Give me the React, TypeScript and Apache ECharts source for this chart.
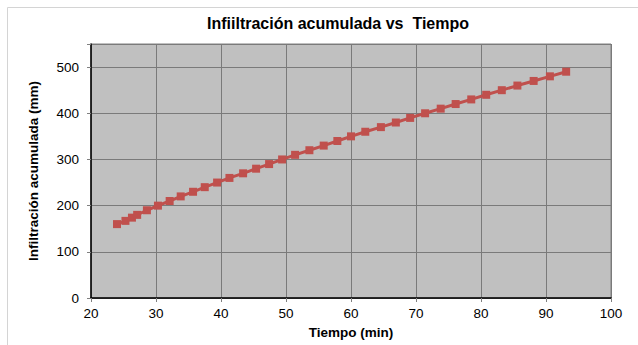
import React, { useEffect, useRef } from "react";
import * as echarts from "echarts";

const tiempo = [24.0, 25.3, 26.3, 27.1, 28.6, 30.3, 32.1, 33.8, 35.7, 37.5, 39.4, 41.3, 43.4, 45.4, 47.4, 49.4, 51.4, 53.6, 55.8, 57.9, 60.0, 62.2, 64.6, 66.9, 69.1, 71.4, 73.8, 76.1, 78.5, 80.8, 83.2, 85.6, 88.1, 90.6, 93.1];
const infiltracion = [160, 167, 174, 180, 190, 200, 210, 220, 230, 240, 250, 260, 270, 280, 290, 300, 310, 320, 330, 340, 350, 360, 370, 380, 390, 400, 410, 420, 430, 440, 450, 460, 470, 480, 490];

const titleText = "Infiiltración acumulada vs  Tiempo";
const xName = "Tiempo (min)";
const yName = "Infiltración acumulada (mm)";

const FONT = "'Liberation Sans', Arial, sans-serif";

export default function App() {
  const ref = useRef<HTMLDivElement>(null);
  useEffect(() => {
    if (!ref.current) return;
    const chart = echarts.init(ref.current, null, { renderer: "svg" });
    const data = tiempo.map((t, i) => [t, infiltracion[i]]);
    chart.setOption({
      animation: false,
      backgroundColor: "#ffffff",
      textStyle: { fontFamily: FONT },
      title: {
        text: titleText,
        left: 333,
        top: 10,
        textAlign: "center",
        textStyle: { fontFamily: FONT, fontWeight: "bold", fontSize: 16, color: "#000" },
      },
      graphic: [
        {
          type: "rect",
          shape: { x: 7.5, y: 7.5, width: 700, height: 400 },
          style: { fill: "none", stroke: "#d4d4d4", lineWidth: 1 },
          silent: true,
          z: -10,
        },
      ],
      grid: {
        left: 91,
        top: 44,
        width: 520,
        height: 254,
        show: true,
        backgroundColor: "#c0c0c0",
        borderColor: "#808080",
        borderWidth: 1,
      },
      xAxis: {
        type: "value",
        min: 20,
        max: 100,
        interval: 10,
        name: xName,
        nameLocation: "middle",
        nameGap: 27,
        nameTextStyle: { fontFamily: FONT, fontWeight: "bold", fontSize: 13.5, color: "#000" },
        axisLine: { show: true, onZero: false, lineStyle: { color: "#000", width: 1.5 } },
        axisTick: { show: true, length: 4, lineStyle: { color: "#808080" } },
        axisLabel: { fontFamily: FONT, fontSize: 13.5, color: "#000", margin: 8 },
        splitLine: { show: true, lineStyle: { color: "#7a7a7a", width: 1 } },
      },
      yAxis: {
        type: "value",
        min: 0,
        max: 550,
        interval: 100,
        name: yName,
        nameLocation: "middle",
        nameGap: 51,
        nameTextStyle: { fontFamily: FONT, fontWeight: "bold", fontSize: 13.5, color: "#000" },
        axisLine: { show: true, lineStyle: { color: "#000", width: 1.5 } },
        axisTick: { show: true, length: 4, lineStyle: { color: "#808080" } },
        axisLabel: {
          fontFamily: FONT,
          fontSize: 13.5,
          color: "#000",
          margin: 12,
          formatter: (v: number) => (v > 500 ? "" : String(v)),
        },
        splitLine: { show: true, lineStyle: { color: "#7a7a7a", width: 1 } },
      },
      series: [
        {
          type: "line",
          data,
          symbol: "rect",
          symbolSize: 8,
          itemStyle: { color: "#c0504d" },
          lineStyle: { color: "#c0504d", width: 3 },
        },
      ],
    });
    return () => chart.dispose();
  }, []);
  return (
    <div
      ref={ref}
      style={{ position: "absolute", left: 0, top: 0, width: 638, height: 345 }}
    />
  );
}
